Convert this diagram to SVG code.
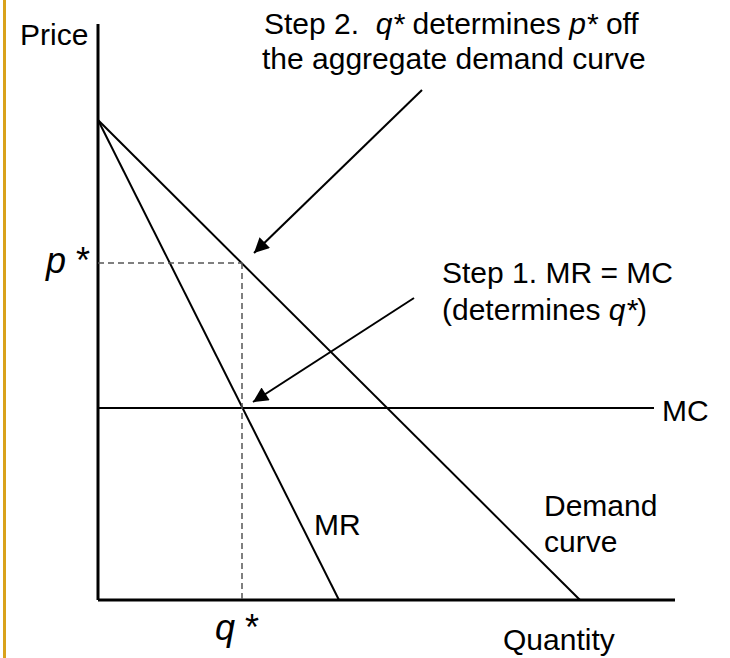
<svg xmlns="http://www.w3.org/2000/svg" width="730" height="658" viewBox="0 0 730 658">
<style>
text{font-family:"Liberation Sans",Arial,sans-serif;font-size:30px;fill:#000}
.it{font-style:italic}
.big{font-size:36px}
.ax{stroke:#000;stroke-width:3;fill:none}
.ln{stroke:#000;stroke-width:2;fill:none}
.da{stroke:#555;stroke-width:1.5;stroke-dasharray:6,4;fill:none}
.ar{stroke:#000;stroke-width:2;fill:none}
</style>
<defs>
<marker id="ah" viewBox="0 0 10 10" refX="10" refY="5" markerWidth="21" markerHeight="15" markerUnits="userSpaceOnUse" orient="auto">
<path d="M0,0 L10,5 L0,10 z" fill="#000"/>
</marker>
</defs>
<rect x="3" y="0" width="3" height="658" fill="#D9A21B"/>
<g id="axes">
<line class="ax" x1="98" y1="24" x2="98" y2="600"/>
<line class="ax" x1="98" y1="600" x2="675" y2="600"/>
<text x="20" y="45">Price</text>
<text x="503" y="650">Quantity</text>
</g>
<g id="demand">
<line class="ln" x1="98" y1="120" x2="580" y2="600"/>
<text x="544" y="516">Demand</text>
<text x="544" y="552">curve</text>
</g>
<g id="mr">
<line class="ln" x1="98" y1="120" x2="339" y2="600"/>
<text x="314" y="535">MR</text>
</g>
<g id="mc">
<line class="ln" x1="98" y1="408" x2="654" y2="408"/>
<text x="662" y="421">MC</text>
</g>
<g id="pstar">
<text class="big" x="46" y="273" xml:space="preserve"><tspan class="it">p</tspan> *</text>
</g>
<g id="qstar">
<text class="big" x="215" y="640" xml:space="preserve"><tspan class="it">q</tspan> *</text>
</g>
<g id="step2">
<text x="264" y="34" xml:space="preserve">Step 2.  <tspan class="it">q*</tspan> determines <tspan class="it">p*</tspan> off</text>
<text x="262" y="69">the aggregate demand curve</text>
</g>
<g id="step1">
<text x="442" y="283">Step 1. MR = MC</text>
<text x="442" y="320">(determines <tspan class="it">q*</tspan>)</text>
</g>
<g id="connectors">
<line class="da" x1="98" y1="263" x2="242" y2="263"/>
<line class="da" x1="242" y1="263" x2="242" y2="600"/>
<line class="ar" x1="422" y1="90" x2="254" y2="253" marker-end="url(#ah)"/>
<line class="ar" x1="414" y1="298" x2="253" y2="402" marker-end="url(#ah)"/>
</g>
</svg>
